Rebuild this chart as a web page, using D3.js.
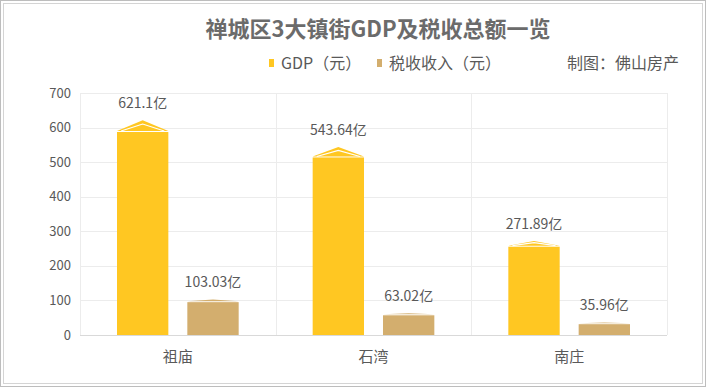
<!DOCTYPE html>
<html>
<head>
<meta charset="utf-8">
<script src="https://cdn.jsdelivr.net/npm/d3@7"></script>
<style>
  body { margin: 0; background: #fff; }
  svg { display: block; font-family: "Noto Sans CJK SC", "Noto Sans", sans-serif; }
</style>
</head>
<body>
<div class="canvas"></div>
<script>
// data
const towns = ["祖庙", "石湾", "南庄"];
const gdp = [621.1, 543.64, 271.89];
const tax = [103.03, 63.02, 35.96];
const gdpLabels = ["621.1亿", "543.64亿", "271.89亿"];
const taxLabels = ["103.03亿", "63.02亿", "35.96亿"];
const seriesNames = ["GDP（元）", "税收收入（元）"];
const seriesColors = ["#ffc722", "#d3ae6e"];
const yTicks = [0, 100, 200, 300, 400, 500, 600, 700];

const W = 707, H = 390;
const svg = d3.select(".canvas").append("svg").attr("width", W).attr("height", H);

// double frame round the picture
svg.append("rect").attr("x", 0.5).attr("y", 0.5).attr("width", 705).attr("height", 386)
  .attr("fill", "none").attr("stroke", "#bdbdbd");
svg.append("rect").attr("x", 3.5).attr("y", 3.5).attr("width", 699).attr("height", 380)
  .attr("fill", "none").attr("stroke", "#d4d4d4");

const plotL = 80, plotR = 667, plotT = 93, plotB = 335;

const y = d3.scaleLinear().domain([0, 700]).range([plotB, plotT]);
const x0 = d3.scaleBand().domain(towns).range([plotL, plotR]);
const x1 = d3.scaleBand().domain([0, 1]).range([37, x0.bandwidth() - 37]).paddingInner(0.27);

// grid
svg.append("g").selectAll("line").data(yTicks).join("line")
  .attr("x1", plotL).attr("x2", plotR)
  .attr("y1", d => Math.round(y(d)) + 0.5).attr("y2", d => Math.round(y(d)) + 0.5)
  .attr("stroke", d => d === 0 ? "#d9d9d9" : "#ececec");
const vlines = towns.map(t => x0(t)).concat([plotR]);
svg.append("g").selectAll("line").data(vlines).join("line")
  .attr("x1", d => Math.round(d) + 0.5).attr("x2", d => Math.round(d) + 0.5)
  .attr("y1", plotT).attr("y2", plotB)
  .attr("stroke", "#ececec");

// y axis labels
svg.append("g").selectAll("text").data(yTicks).join("text")
  .attr("x", 71).attr("y", d => y(d)).attr("dy", "0.35em")
  .attr("text-anchor", "end").attr("font-size", 13).attr("fill", "#595959")
  .text(d => d);

// x axis labels
svg.append("g").selectAll("text").data(towns).join("text")
  .attr("x", d => x0(d) + x0.bandwidth() / 2).attr("y", 357).attr("dy", "0.35em")
  .attr("text-anchor", "middle").attr("font-size", 15).attr("fill", "#595959")
  .text(d => d);

// bars with a pointed cap
const rows = [];
towns.forEach((t, i) => {
  rows.push({ town: t, s: 0, v: gdp[i], label: gdpLabels[i] });
  rows.push({ town: t, s: 1, v: tax[i], label: taxLabels[i] });
});

const bars = svg.append("g");
rows.forEach(d => {
  const bx = x0(d.town) + x1(d.s);
  const bw = x1.bandwidth();
  const peak = y(d.v);
  const capH = (plotB - peak) * 0.05;
  const rectTop = peak + capH;
  const col = seriesColors[d.s];
  bars.append("rect")
    .attr("x", bx).attr("y", rectTop + 1).attr("width", bw).attr("height", plotB - rectTop - 1)
    .attr("fill", col);
  bars.append("path")
    .attr("d", `M${bx},${rectTop} L${bx + bw / 2},${peak} L${bx + bw},${rectTop} Z`)
    .attr("fill", col);
  if (capH > 3) {
    bars.append("path")
      .attr("d", `M${bx + bw * 0.08},${rectTop} L${bx + bw / 2},${peak + capH * 0.35} L${bx + bw * 0.92},${rectTop}`)
      .attr("fill", "none").attr("stroke", "#fff").attr("stroke-width", 1.2);
  }
  svg.append("text")
    .attr("x", bx + bw / 2).attr("y", peak - 17).attr("dy", "0.35em")
    .attr("text-anchor", "middle").attr("font-size", 14).attr("fill", "#595959")
    .text(d.label);
});

// title
svg.append("text")
  .attr("x", 378).attr("y", 29).attr("dy", "0.35em")
  .attr("text-anchor", "middle").attr("font-size", 22).attr("font-weight", "bold")
  .attr("fill", "#6b6b6b")
  .text("禅城区3大镇街GDP及税收总额一览");

// legend
const legX = [269, 377];
seriesNames.forEach((n, i) => {
  svg.append("rect").attr("x", legX[i]).attr("y", 59).attr("width", 5).attr("height", 8)
    .attr("fill", seriesColors[i]);
  svg.append("text").attr("x", legX[i] + 12).attr("y", 63).attr("dy", "0.35em")
    .attr("font-size", 16).attr("fill", "#595959").text(n);
});
svg.append("text").attr("x", 567).attr("y", 63).attr("dy", "0.35em")
  .attr("font-size", 16).attr("fill", "#595959").text("制图：佛山房产");
</script>
</body>
</html>
